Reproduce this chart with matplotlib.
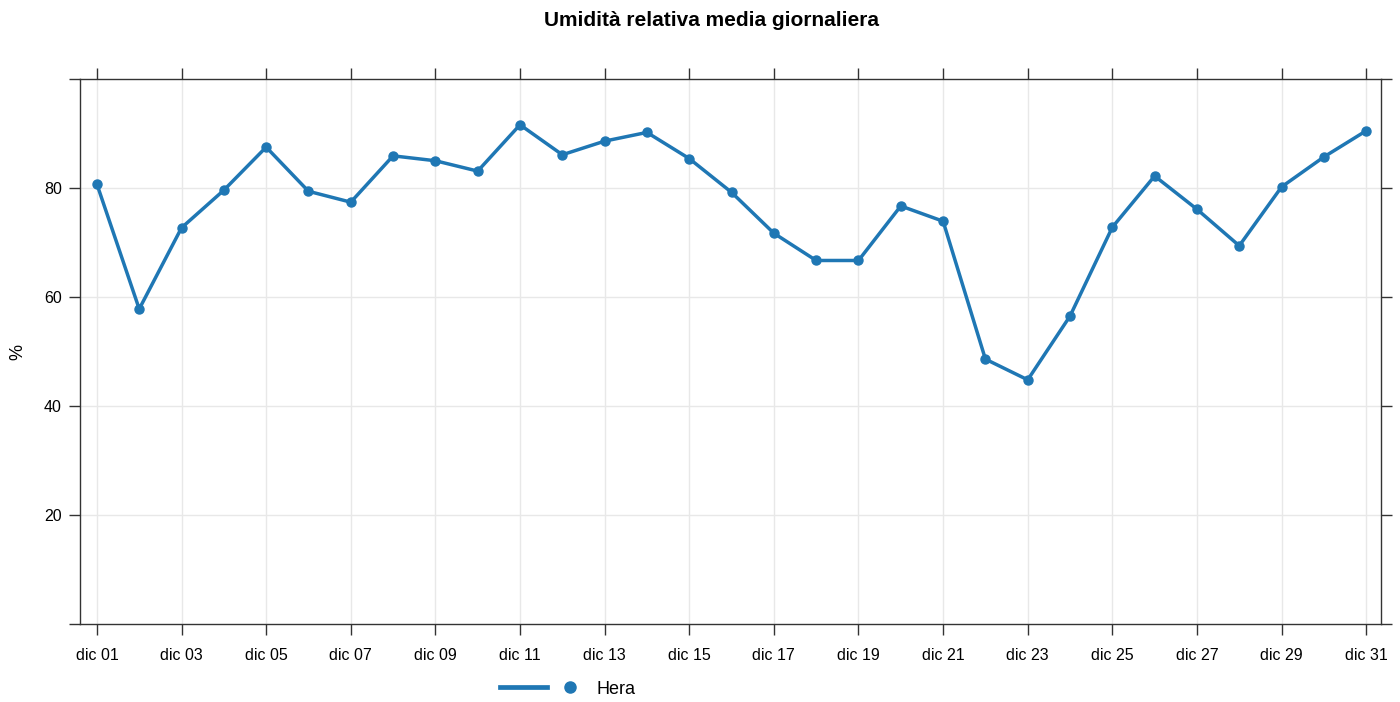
import matplotlib
matplotlib.use("Agg")
import matplotlib.pyplot as plt
from matplotlib.legend_handler import HandlerTuple

days = list(range(1, 32))
humidity = [80.7, 57.8, 72.7, 79.6, 87.5, 79.4, 77.4, 85.9, 85.0, 83.1,
            91.6, 86.1, 88.6, 90.2, 85.4, 79.2, 71.7, 66.7, 66.7, 76.7,
            73.9, 48.6, 44.8, 56.5, 72.8, 82.2, 76.1, 69.4, 80.2, 85.7, 90.5]
tick_days = list(range(1, 32, 2))
tick_labels = [f"dic {d:02d}" for d in tick_days]
y_ticks = [20, 40, 60, 80]
y_edge_ticks = [0, 100]
series_name = "Hera"
title = "Umidità relativa media giornaliera"

plt.rcParams['font.family'] = ["Liberation Sans", "DejaVu Sans"]

color = "#1f77b4"
axc = "#333333"
fig = plt.figure(figsize=(14, 7.02), dpi=100)
ax = fig.add_axes([80/1400, 1-624/702, (1381-80)/1400, (624-79)/702])
ax.plot(days, humidity, color=color, lw=2.5, marker="o", ms=6.5, solid_joinstyle="round")
ax.set_xlim(0.6, 31.35)
ax.set_ylim(0, 100)
ax.set_xticks(tick_days)
ax.set_xticklabels(tick_labels)
ax.set_yticks(y_ticks)
ax.set_yticks(y_edge_ticks, minor=True)
ax.grid(True, which="major", color="#e8e8e8", lw=1)
ax.set_axisbelow(True)
ax.tick_params(axis="both", which="both", direction="out", length=8, width=1, color=axc,
               labelsize=11.5, top=True, right=True, labeltop=False, labelright=False)
ax.tick_params(axis="x", which="major", pad=9)
ax.tick_params(axis="y", which="major", pad=5)
ax.tick_params(axis="y", which="minor", labelleft=False)
for s in ax.spines.values():
    s.set_color(axc)
    s.set_linewidth(1)
ax.set_ylabel("%", fontsize=13, labelpad=13)
fig.text(712/1400, 1-20/702, title, ha="center", va="center", fontsize=15, fontweight="bold")
lh = plt.Line2D([], [], color=color, lw=3.4)
mh = plt.Line2D([], [], color=color, lw=0, marker="o", ms=8)
leg = fig.legend(handles=[(lh, mh)], labels=[series_name], loc="center left",
                 bbox_to_anchor=(500/1400, 1-689/702), borderaxespad=0, borderpad=0,
                 handler_map={tuple: HandlerTuple(ndivide=2, pad=0.0)},
                 frameon=False, fontsize=13, handlelength=5.2, handletextpad=0.15)
fig.savefig("out.png", dpi=100)
